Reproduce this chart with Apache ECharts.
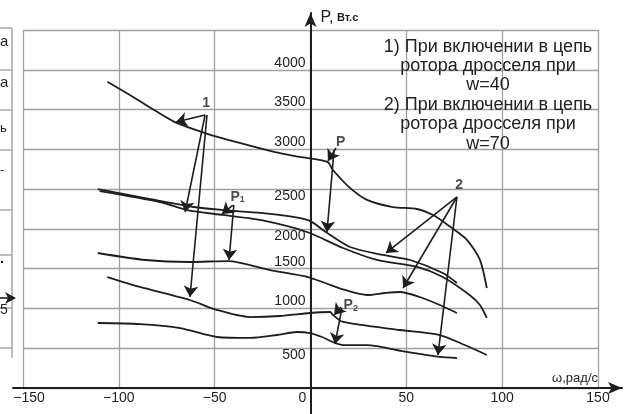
<!DOCTYPE html>
<html>
<head>
<meta charset="utf-8">
<script src="https://cdn.jsdelivr.net/npm/echarts@6/dist/echarts.min.js"></script>
<style>
  html, body { margin: 0; padding: 0; background: #fff; }
  #chart { width: 628px; height: 414px; }
</style>
</head>
<body>
<div id="chart"></div>
<script>
// curves: [omega, P]
const curveTop = [[-106, 3850], [-94, 3680], [-84, 3530], [-71, 3345], [-55, 3205], [-37, 3080], [-18.5, 2965], [-5.5, 2905], [9, 2840],
  [11.7, 2740], [20.6, 2515], [29.5, 2365], [43, 2275], [55.6, 2250], [64, 2175], [73, 2025], [81.7, 1860], [88.4, 1610], [92, 1255]];
const curveMidA = [[-111, 2500], [-89, 2400], [-61, 2275], [-46, 2237], [-26, 2200], [-9, 2150], [-0.3, 2100], [8.6, 1950],
  [20.6, 1772], [37.8, 1672], [52, 1609], [69, 1446], [76.4, 1320]];
const curveMidB = [[-110, 2476], [-78.5, 2338], [-64.4, 2237], [-45.7, 2175], [-26.3, 2112], [-1.8, 1961], [17, 1760],
  [34.7, 1609], [55.6, 1521], [69, 1395], [83, 1169], [88.4, 1043], [92, 880]];
const curve1500 = [[-111, 1697], [-86, 1609], [-63, 1584], [-43, 1596], [-21, 1483], [-1.3, 1395], [7.6, 1320], [18, 1232],
  [29.5, 1169], [39, 1194], [46.7, 1207], [57, 1144], [67.5, 1043], [76.4, 943]];
const curveLowA = [[-106, 1395], [-89, 1270], [-63, 1106], [-48.7, 980], [-31.6, 892], [-16, 905], [-0.3, 943], [10.2, 955],
  [11.7, 918], [17, 830], [46.7, 729], [67.5, 666], [80.5, 540], [92, 415]];
const curveLowB = [[-111, 817], [-89, 804], [-68, 754], [-48.7, 641], [-31.6, 629], [-17.5, 666], [-7, 704], [-0.3, 691],
  [6, 641], [11.7, 578], [17, 540], [29.5, 540], [50.3, 453], [67.5, 390], [76.4, 377]];

const noteText = ['1', '2', 'P', 'P{s|1}', 'P{s|2}'];
const notePos = [[-54.5, 3583], [77.5, 2545], [15.8, 3092], [-38, 2401], [21, 1043]];

const arrowFrom = [[-55, 3432], [-55, 3432], [-54, 3432], [13.3, 3017], [12.3, 2991], [-40.5, 2300], [-40, 2300],
  [15.9, 1018], [16.4, 1006], [76.4, 2401], [76.4, 2401], [76.4, 2401]];
const arrowTo = [[-70.2, 3344], [-65.4, 2212], [-62.9, 1144], [9.1, 2853], [8.6, 1961], [-46.2, 2187], [-42.5, 1609],
  [12.3, 918], [12.8, 553], [39.4, 1697], [48.3, 1257], [66.5, 415]];

const legendLines = ['1) При включении в цепь', 'ротора дросселя при', 'w=40',
  '2) При включении в цепь', 'ротора дросселя при', 'w=70'];

const ink = '#1e1e1e';
const font = '"Liberation Sans", Arial, sans-serif';

function curve(data) {
  return {
    type: 'line', data: data, smooth: 0.25, symbol: 'none',
    lineStyle: { color: ink, width: 1.8 }, z: 3
  };
}

const option = {
  backgroundColor: '#fff',
  animation: false,
  textStyle: { fontFamily: font },
  grid: [
    { left: 23, right: 30, top: 30, bottom: 26, outerBoundsMode: 'none', containLabel: false },
    { left: 13, right: 6, top: 13, bottom: 0, outerBoundsMode: 'none', containLabel: false }
  ],
  xAxis: [
    {
      type: 'value', gridIndex: 0, min: -150, max: 150, interval: 50,
      axisLine: { show: false }, axisTick: { show: false },
      axisLabel: {
        margin: 3, fontSize: 14, color: ink,
        formatter: function (v) {
          if (v === 0) return '{z|0}';
          if (v === -150) return '{f|−150}';
          return String(v).replace('-', '−');
        },
        rich: {
          z: { fontSize: 14, color: ink, padding: [0, 16, 0, 0] },
          f: { fontSize: 14, color: ink, padding: [0, 0, 0, 12] }
        }
      },
      splitLine: { show: true, lineStyle: { color: '#a0a0a0', width: 1.3 } }
    },
    {
      type: 'value', gridIndex: 1, min: -155.2, max: 162.5,
      axisLine: { onZero: true, lineStyle: { color: ink, width: 2 }, symbol: ['none', 'arrow'], symbolSize: [9, 14] },
      axisTick: { show: false }, axisLabel: { show: false }, splitLine: { show: false },
      name: 'ω,рад/с', nameLocation: 'end', nameGap: -24,
      nameTextStyle: { align: 'right', verticalAlign: 'bottom', fontSize: 13, color: ink, padding: [0, 0, 3, 0] }
    }
  ],
  yAxis: [
    {
      // labels sit next to the vertical axis at omega = 0
      type: 'value', gridIndex: 0, min: 0, max: 4500, interval: 500,
      position: 'left', offset: -287.5,
      axisLine: { show: false, onZero: false }, axisTick: { show: false },
      axisLabel: {
        margin: 5, fontSize: 14, color: ink,
        formatter: function (v) {
          if (v === 0 || v === 4500) return '';
          if (v === 500 || v === 2000 || v === 2500) return '{dn|' + v + '}';
          return '{up|' + v + '}';
        },
        rich: {
          up: { fontSize: 14, color: ink, padding: [0, 0, 14, 0] },
          dn: { fontSize: 14, color: ink, padding: [14, 0, 0, 0] }
        }
      },
      splitLine: { show: true, lineStyle: { color: '#a0a0a0', width: 1.3 } }
    },
    {
      type: 'value', gridIndex: 1, min: -327, max: 4714,
      axisLine: { onZero: true, lineStyle: { color: ink, width: 2 }, symbol: ['none', 'arrow'], symbolSize: [9, 14] },
      axisTick: { show: false }, axisLabel: { show: false }, splitLine: { show: false },
      name: '{p|P,} {u|Вт.с}', nameLocation: 'end', nameGap: -5,
      nameTextStyle: {
        align: 'left', verticalAlign: 'middle', padding: [0, 0, 0, 10],
        rich: { p: { fontSize: 16, color: ink }, u: { fontSize: 11, color: ink, fontWeight: 'bold' } }
      }
    }
  ],
  series: [
    curve(curveTop), curve(curveMidA), curve(curveMidB), curve(curve1500), curve(curveLowA), curve(curveLowB),
    {
      type: 'lines', coordinateSystem: 'cartesian2d', xAxisIndex: 0, yAxisIndex: 0,
      symbol: ['none', 'arrow'], symbolSize: 11,
      lineStyle: { color: ink, width: 1.6, opacity: 1 },
      data: arrowFrom.map(function (a, i) { return { coords: [a, arrowTo[i]] }; }),
      z: 4
    },
    {
      type: 'scatter', symbolSize: 0, xAxisIndex: 0, yAxisIndex: 0,
      data: notePos.map(function (p, i) { return { value: p, name: noteText[i] }; }),
      label: {
        show: true, position: 'inside', formatter: '{b}', color: ink,
        fontSize: 14, fontWeight: 'bold',
        rich: { s: { fontSize: 9, color: ink, padding: [6, 0, 0, 0] } }
      },
      z: 5
    }
  ],
  graphic: [
    {
      type: 'text', x: 488, y: 37,
      style: { text: legendLines.join('\n'), align: 'center', verticalAlign: 'top', font: '18px ' + font, lineHeight: 19.4, fill: '#222' },
      z: 10
    },
    // clipped neighbour figure at the left edge
    { type: 'line', shape: { x1: 12, y1: 28, x2: 12, y2: 358 }, style: { stroke: '#9a9a9a', lineWidth: 1.3 } },
    { type: 'line', shape: { x1: 0, y1: 28, x2: 12, y2: 28 }, style: { stroke: '#9a9a9a', lineWidth: 1.3 } },
    { type: 'line', shape: { x1: 0, y1: 70, x2: 12, y2: 70 }, style: { stroke: '#9a9a9a', lineWidth: 1.3 } },
    { type: 'line', shape: { x1: 0, y1: 110, x2: 12, y2: 110 }, style: { stroke: '#9a9a9a', lineWidth: 1.3 } },
    { type: 'line', shape: { x1: 0, y1: 150, x2: 12, y2: 150 }, style: { stroke: '#9a9a9a', lineWidth: 1.3 } },
    { type: 'line', shape: { x1: 0, y1: 210, x2: 12, y2: 210 }, style: { stroke: '#9a9a9a', lineWidth: 1.3 } },
    { type: 'line', shape: { x1: 0, y1: 255, x2: 12, y2: 255 }, style: { stroke: '#9a9a9a', lineWidth: 1.3 } },
    { type: 'line', shape: { x1: 0, y1: 308, x2: 12, y2: 308 }, style: { stroke: '#9a9a9a', lineWidth: 1.3 } },
    { type: 'line', shape: { x1: 0, y1: 348, x2: 12, y2: 348 }, style: { stroke: '#9a9a9a', lineWidth: 1.3 } },
    { type: 'text', x: 0, y: 42, style: { text: 'а', font: '15px ' + font, fill: ink, verticalAlign: 'middle' } },
    { type: 'text', x: 0, y: 83, style: { text: 'а', font: '15px ' + font, fill: ink, verticalAlign: 'middle' } },
    { type: 'text', x: 0, y: 128, style: { text: 'ь', font: '13px ' + font, fill: ink, verticalAlign: 'middle' } },
    { type: 'text', x: 0, y: 170, style: { text: '-', font: '13px ' + font, fill: ink, verticalAlign: 'middle' } },
    { type: 'text', x: 0, y: 259, style: { text: '.', font: 'bold 15px ' + font, fill: ink, verticalAlign: 'middle' } },
    { type: 'text', x: 0, y: 310, style: { text: '5', font: '14px ' + font, fill: ink, verticalAlign: 'middle' } },
    { type: 'polygon', shape: { points: [[16, 298], [5, 292], [8, 298], [5, 304]] }, style: { fill: ink } },
    { type: 'line', shape: { x1: 0, y1: 298, x2: 10, y2: 298 }, style: { stroke: ink, lineWidth: 1.6 } }
  ]
};

const myChart = echarts.init(document.getElementById('chart'));
myChart.setOption(option);
</script>
</body>
</html>
